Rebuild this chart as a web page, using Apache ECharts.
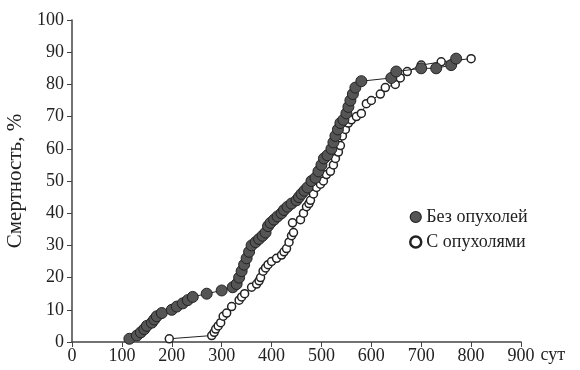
<!DOCTYPE html>
<html>
<head>
<meta charset="utf-8">
<script src="https://cdn.jsdelivr.net/npm/echarts@6/dist/echarts.min.js"></script>
<style>
  html, body { margin: 0; padding: 0; background: #fff; }
  #main { width: 580px; height: 370px; }
</style>
</head>
<body>
<div id="main"></div>
<script>
// Без опухолей: [сутки, смертность %]
const noTumor = [
  [115, 1], [130, 2], [138, 3], [145, 4], [150, 5], [160, 6], [165, 7], [170, 8], [180, 9],
  [200, 10], [210, 11], [222, 12], [232, 13], [242, 14], [270, 15], [300, 16],
  [322, 17], [330, 18], [335, 20], [340, 22], [345, 24], [350, 26], [355, 28],
  [360, 30], [368, 31], [375, 32], [382, 33], [388, 34], [393, 36], [398, 37], [405, 38],
  [412, 39], [420, 40], [425, 41], [432, 42], [440, 43], [450, 44], [455, 45], [460, 46],
  [466, 47], [472, 48], [480, 50], [488, 51], [494, 53], [500, 55], [505, 57], [512, 58],
  [520, 60], [524, 62], [528, 64], [533, 66], [538, 68], [544, 69], [550, 71], [554, 73],
  [558, 75], [563, 77], [568, 79], [580, 81], [640, 82], [650, 84], [700, 85], [730, 85],
  [760, 86], [770, 88]
];
// С опухолями
const withTumor = [
  [195, 1], [280, 2], [285, 3], [288, 4], [293, 5], [298, 6], [303, 8], [310, 9], [320, 11],
  [335, 13], [340, 14], [346, 15], [360, 17], [370, 18], [375, 19], [378, 20], [383, 22], [388, 23],
  [393, 24], [400, 25], [410, 26], [420, 27], [425, 28], [430, 29], [435, 31], [440, 33],
  [444, 34], [442, 37], [458, 38], [464, 40], [470, 42], [475, 43], [478, 44], [484, 46], [490, 48],
  [498, 49], [504, 50], [510, 52], [518, 53], [524, 55], [528, 57], [534, 59], [538, 61],
  [542, 64], [548, 66], [554, 68], [560, 69], [570, 70], [580, 71], [590, 74], [600, 75],
  [618, 77], [628, 79], [648, 80], [658, 82], [672, 84], [700, 86], [740, 87], [800, 88]
];
const seriesNames = ['Без опухолей', 'С опухолями'];

const chart = echarts.init(document.getElementById('main'));
const font = '"Liberation Serif", "DejaVu Serif", serif';
const axisColor = '#444';

const option = {
  animation: false,
  textStyle: { fontFamily: font },
  grid: { left: 72, right: 59, top: 20, bottom: 28, containLabel: false, outerBoundsMode: 'none' },
  legend: {
    orient: 'vertical',
    left: 404,
    top: 203,
    itemGap: 7,
    itemWidth: 11,
    itemHeight: 11,
    textStyle: { fontFamily: font, fontSize: 18, color: '#222' },
    data: [
      { name: seriesNames[0], icon: 'circle', itemStyle: { color: '#555', borderColor: '#222', borderWidth: 1.2 } },
      { name: seriesNames[1], icon: 'circle', itemStyle: { color: '#fff', borderColor: '#222', borderWidth: 2.5 } }
    ]
  },
  xAxis: {
    type: 'value',
    min: 0, max: 900, interval: 100,
    name: 'сут',
    nameLocation: 'end',
    nameGap: 8,
    nameTextStyle: { fontFamily: font, fontSize: 18, color: '#222', verticalAlign: 'top', padding: [4, 0, 0, 0] },
    axisLine: { lineStyle: { color: axisColor, width: 1.5 } },
    axisTick: { show: true, length: 5, lineStyle: { color: axisColor } },
    axisLabel: { fontFamily: font, fontSize: 18, color: '#222', margin: 5 },
    splitLine: { show: false }
  },
  yAxis: {
    type: 'value',
    min: 0, max: 100, interval: 10,
    name: 'Смертность, %',
    nameLocation: 'middle',
    nameGap: 43,
    nameTextStyle: { fontFamily: font, fontSize: 21, color: '#222' },
    axisLine: { show: true, lineStyle: { color: axisColor, width: 1.5 } },
    axisTick: { show: true, length: 5, lineStyle: { color: axisColor } },
    axisLabel: { fontFamily: font, fontSize: 18, color: '#222', margin: 8 },
    splitLine: { show: false }
  },
  series: [
    {
      name: seriesNames[1],
      type: 'line',
      data: withTumor,
      symbol: 'circle',
      symbolSize: 8,
      lineStyle: { color: '#222', width: 1 },
      itemStyle: { color: '#fff', borderColor: '#222', borderWidth: 1.5 },
      z: 2
    },
    {
      name: seriesNames[0],
      type: 'line',
      data: noTumor,
      symbol: 'circle',
      symbolSize: 11,
      lineStyle: { color: '#222', width: 1 },
      itemStyle: { color: '#555', borderColor: '#222', borderWidth: 1 },
      z: 3
    }
  ]
};

chart.setOption(option);
</script>
</body>
</html>
